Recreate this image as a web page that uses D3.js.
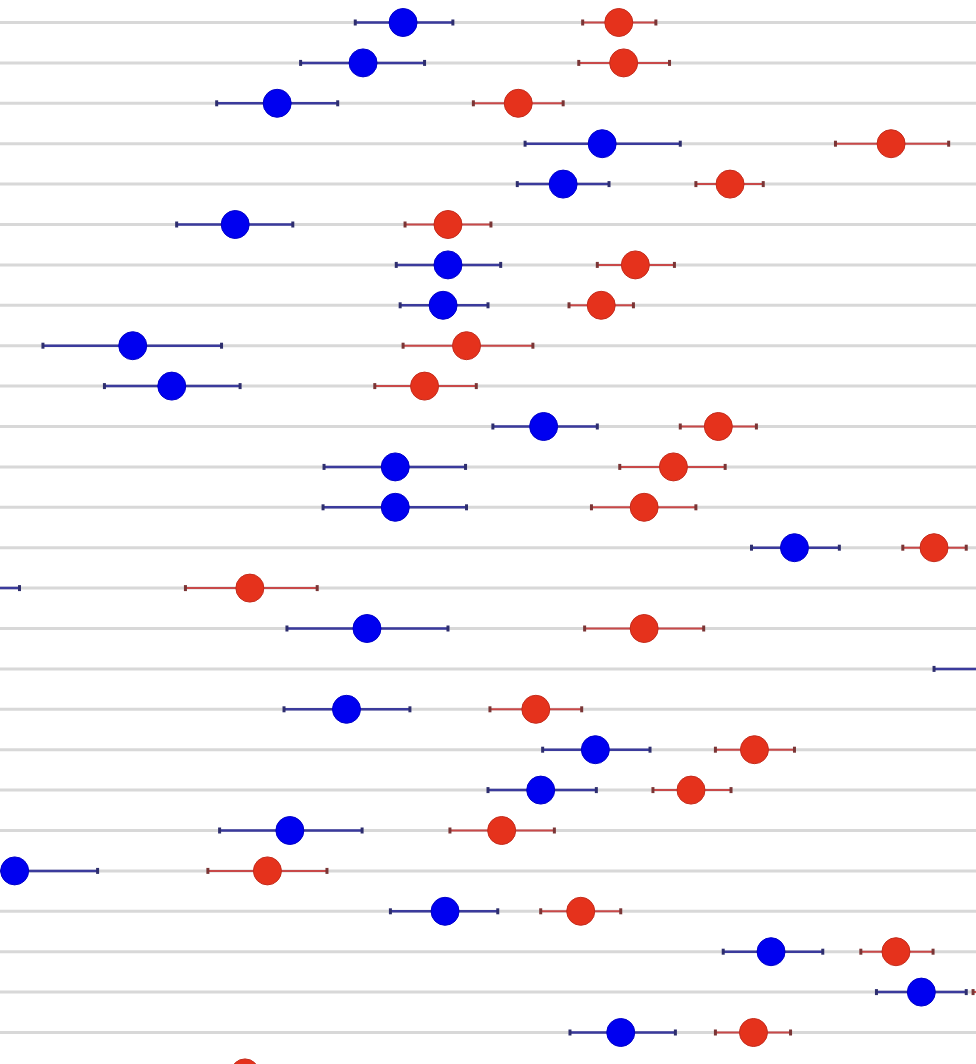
<!DOCTYPE html>
<html>
<head>
<meta charset="utf-8">
<script src="https://cdn.jsdelivr.net/npm/d3@7"></script>
<style>
    html, body { margin: 0; padding: 0; background: #ffffff; overflow: hidden; }
</style>
</head>
<body>
<div id="chart"></div>
<script>
// 行标签
const rows = ['r1', 'r2', 'r3', 'r4', 'r5', 'r6', 'r7', 'r8', 'r9', 'r10', 'r11', 'r12', 'r13', 'r14',
    'r15', 'r16', 'r17', 'r18', 'r19', 'r20', 'r21', 'r22', 'r23', 'r24', 'r25', 'r26', 'r27']

// 蓝色组: 均值 / 下限 / 上限
const blueMean = [41.3, 37.2, 28.4, 61.7, 57.7, 24.1, 45.9, 45.4, 13.6, 17.6, 55.7, 40.5, 40.5, 81.4,
    -4.1, 37.6, 103.5, 35.5, 61.0, 55.4, 29.7, 1.5, 45.6, 79.0, 94.4, 63.6, -6.1]
const blueLow = [36.4, 30.8, 22.2, 53.8, 53.0, 18.1, 40.6, 41.0, 4.4, 10.7, 50.5, 33.2, 33.1, 77.0,
    -10.2, 29.4, 95.7, 29.1, 55.6, 50.0, 22.5, -6.1, 40.0, 74.1, 89.8, 58.4, -11.3]
const blueHigh = [46.4, 43.5, 34.6, 69.7, 62.4, 30.0, 51.3, 50.0, 22.7, 24.6, 61.2, 47.7, 47.8, 86.0,
    2.0, 45.9, 111.2, 42.0, 66.6, 61.1, 37.1, 10.0, 51.0, 84.3, 99.0, 69.2, -1.0]

// 红色组: 均值 / 下限 / 上限
const redMean = [63.4, 63.9, 53.1, 91.3, 74.8, 45.9, 65.1, 61.6, 47.8, 43.5, 73.6, 69.0, 66.0, 95.7,
    25.6, 66.0, 120.9, 54.9, 77.3, 70.8, 51.4, 27.4, 59.5, 91.8, 103.5, 77.2, 25.1]
const redLow = [59.7, 59.3, 48.5, 85.6, 71.3, 41.5, 61.2, 58.3, 41.3, 38.4, 69.7, 63.5, 60.6, 92.5,
    19.0, 59.9, 115.8, 50.2, 73.3, 66.9, 46.1, 21.3, 55.4, 88.2, 99.7, 73.3, 19.0]
const redHigh = [67.2, 68.6, 57.7, 97.2, 78.2, 50.3, 69.1, 64.9, 54.6, 48.8, 77.5, 74.3, 71.3, 99.0,
    32.5, 72.1, 126.0, 59.6, 81.4, 74.9, 56.8, 33.5, 63.6, 95.6, 107.1, 81.0, 31.8]

const width = 976
const height = 1064

let svg = d3.select('#chart').append('svg')
    .attr('width', width)
    .attr('height', height)

let x = d3.scaleLinear()
    .domain([0, 100])
    .range([0, width])

let y = d3.scalePoint()
    .domain(rows)
    .range([22.5, 22.5 + 40.4 * (rows.length - 1)])

// 轻微模糊, 贴近原图质感
let defs = svg.append('defs')
defs.append('filter')
    .attr('id', 'soft')
    .append('feGaussianBlur')
    .attr('stdDeviation', 0.7)

let root = svg.append('g').attr('filter', 'url(#soft)')

// 网格线
root.append('g')
    .selectAll('line')
    .data(rows)
    .enter()
    .append('line')
    .attr('x1', 0)
    .attr('x2', width)
    .attr('y1', d => y(d))
    .attr('y2', d => y(d))
    .attr('stroke', '#d8d8d8')
    .attr('stroke-width', 3)

const groups = [
    { mean: blueMean, low: blueLow, high: blueHigh, line: '#3a3a9c', cap: '#2e2e6e', dot: '#0505f0', edge: '#0000c8', w: 2.5 },
    { mean: redMean, low: redLow, high: redHigh, line: '#c84a4a', cap: '#7a3434', dot: '#e5331f', edge: '#c42a1a', w: 2 }
]

groups.forEach(g => {
    let data = rows.map((r, i) => ({ row: r, mean: g.mean[i], low: g.low[i], high: g.high[i] }))
    let layer = root.append('g')

    // 误差线
    layer.selectAll('line.bar')
        .data(data)
        .enter()
        .append('line')
        .attr('class', 'bar')
        .attr('x1', d => x(d.low))
        .attr('x2', d => x(d.high))
        .attr('y1', d => y(d.row))
        .attr('y2', d => y(d.row))
        .attr('stroke', g.line)
        .attr('stroke-width', g.w)

    // 端点
    layer.selectAll('line.cap')
        .data(data.flatMap(d => [{ row: d.row, v: d.low }, { row: d.row, v: d.high }]))
        .enter()
        .append('line')
        .attr('class', 'cap')
        .attr('x1', d => x(d.v))
        .attr('x2', d => x(d.v))
        .attr('y1', d => y(d.row) - 3)
        .attr('y2', d => y(d.row) + 3)
        .attr('stroke', g.cap)
        .attr('stroke-width', 3)

    // 均值点
    layer.selectAll('circle')
        .data(data)
        .enter()
        .append('circle')
        .attr('cx', d => x(d.mean))
        .attr('cy', d => y(d.row))
        .attr('r', 14)
        .attr('fill', g.dot)
        .attr('stroke', g.edge)
        .attr('stroke-width', 1)
})
</script>
</body>
</html>
